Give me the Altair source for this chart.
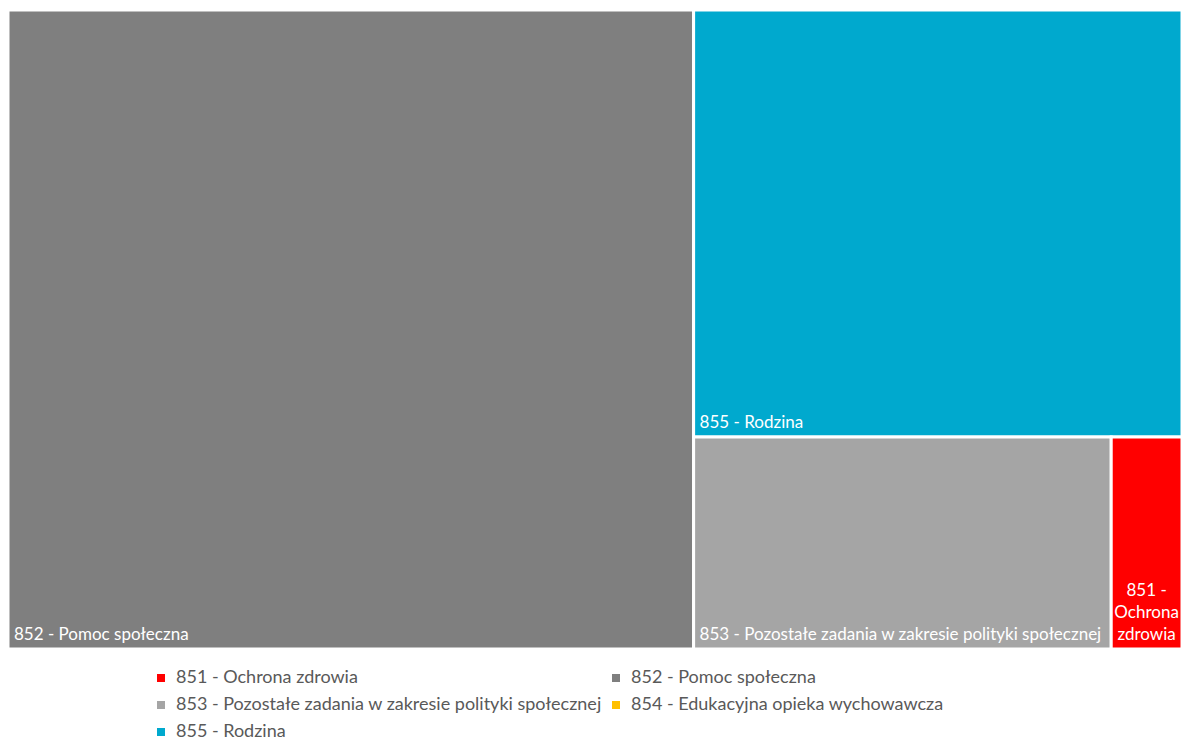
import altair as alt
import pandas as pd

codes = ["851", "852", "853", "854", "855"]
names = [
    "851 - Ochrona zdrowia",
    "852 - Pomoc społeczna",
    "853 - Pozostałe zadania w zakresie polityki społecznej",
    "854 - Edukacyjna opieka wychowawcza",
    "855 - Rodzina",
]
labels = [
    "851 -\nOchrona\nzdrowia",
    "852 - Pomoc społeczna",
    "853 - Pozostałe zadania w zakresie polityki społecznej",
    "854 - Edukacyjna opieka wychowawcza",
    "855 - Rodzina",
]
shares = [2.0, 58.4, 11.8, 0.0, 27.8]
colors = ["#ff0000", "#7f7f7f", "#a5a5a5", "#ffc000", "#00a9ce"]

W, H = 1174, 639


def worst(areas, side):
    s = sum(areas)
    return max(side * side * max(areas) / (s * s), s * s / (side * side * min(areas)))


def squarify(items, x, y, w, h):
    out = []
    items = list(items)
    while items:
        side = min(w, h)
        row = [items.pop(0)]
        while items and worst([a for _, a in row + [items[0]]], side) <= worst([a for _, a in row], side):
            row.append(items.pop(0))
        s = sum(a for _, a in row)
        if w >= h:
            cw = s / h
            yy = y
            for n, a in row:
                hh = a / cw
                out.append((n, x, yy, x + cw, yy + hh))
                yy += hh
            x += cw
            w -= cw
        else:
            rh = s / w
            xx = x
            for n, a in row:
                ww = a / rh
                out.append((n, xx, y, xx + ww, y + rh))
                xx += ww
            y += rh
            h -= rh
    return out


total = sum(shares)
items = sorted(
    [(n, v / total * W * H) for n, v in zip(names, shares) if v > 0],
    key=lambda t: -t[1],
)
rects = squarify(items, 0, 0, W, H)
lab = dict(zip(names, labels))
cod = dict(zip(names, codes))
df = pd.DataFrame(
    [
        {"name": n, "code": cod[n], "label": lab[n], "x0": a, "y0": b, "x1": c, "y1": d, "xc": (a + c) / 2}
        for n, a, b, c, d in rects
    ]
)

xs = alt.Scale(domain=[0, W], nice=False, zero=False)
ys = alt.Scale(domain=[0, H], nice=False, zero=False, reverse=True)
color = alt.Color(
    "name:N",
    scale=alt.Scale(domain=names, range=colors),
    legend=alt.Legend(
        title=None,
        orient="none",
        direction="horizontal",
        legendX=144,
        legendY=659,
        columns=2,
        symbolType="square",
        symbolSize=64,
        symbolStrokeWidth=0,
        labelFontSize=18,
        labelColor="#595959",
        labelFont="Lato",
        rowPadding=9,
        columnPadding=5,
        labelOffset=6,
        labelLimit=0,
        padding=0,
    ),
)

base = alt.Chart(df)
rect = base.mark_rect(stroke="white", strokeWidth=3).encode(
    x=alt.X("x0:Q", scale=xs, axis=None),
    x2="x1:Q",
    y=alt.Y("y0:Q", scale=ys, axis=None),
    y2="y1:Q",
    color=color,
)
txt = base.transform_filter(alt.datum.code != "851").mark_text(
    align="left", baseline="bottom", dx=6, dy=-5, color="white", fontSize=17, font="Lato"
).encode(x="x0:Q", y="y1:Q", text="label:N")
txt2 = base.transform_filter(alt.datum.code == "851").mark_text(
    align="center", baseline="bottom", dy=-5 - 44, color="white", fontSize=17, font="Lato",
    lineBreak="\n", lineHeight=22,
).encode(x="xc:Q", y="y1:Q", text="label:N")

chart = (
    alt.layer(rect, txt, txt2)
    .properties(
        width=W,
        height=H,
        autosize=alt.AutoSizeParams(type="none"),
        padding={"top": 2, "left": 0, "right": 0, "bottom": 93},
    )
    .configure_view(stroke=None)
)
chart.save("out.html", embed_options={"renderer": "svg", "actions": False})
